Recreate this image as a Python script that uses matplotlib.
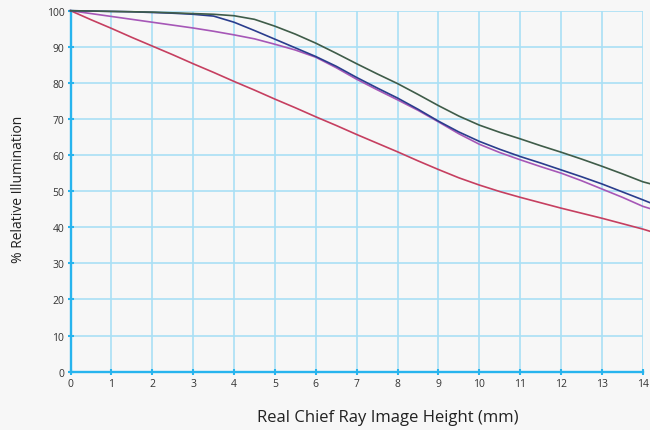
import matplotlib
matplotlib.use('Agg')
import matplotlib.pyplot as plt

# image height (mm)
height = [0, 0.5, 1, 1.5, 2, 2.5, 3, 3.5, 4, 4.5, 5, 5.5, 6, 6.5, 7, 7.5,
          8, 8.5, 9, 9.5, 10, 10.5, 11, 11.5, 12, 12.5, 13, 13.5, 14, 14.2]

# % relative illumination, one list per curve
red = [100, 97.5, 95.1, 92.6, 90.2, 87.8, 85.3, 82.9, 80.4, 78.0, 75.5, 73.1,
       70.6, 68.2, 65.7, 63.3, 60.9, 58.4, 56.0, 53.7, 51.7, 49.9, 48.3, 46.8,
       45.3, 43.9, 42.5, 41.0, 39.5, 38.8]
purple = [100, 99.2, 98.4, 97.6, 96.8, 96.0, 95.2, 94.3, 93.3, 92.2, 90.7,
          89.1, 87.1, 84.2, 81.0, 78.1, 75.3, 72.4, 69.2, 65.9, 63.0, 60.7,
          58.7, 56.8, 55.0, 52.9, 50.6, 48.3, 45.8, 45.1]
blue = [100, 99.9, 99.8, 99.7, 99.5, 99.3, 99.0, 98.5, 96.8, 94.5, 92.1, 89.7,
        87.3, 84.6, 81.5, 78.6, 75.8, 72.7, 69.4, 66.4, 63.8, 61.6, 59.6, 57.8,
        55.9, 54.0, 52.0, 49.8, 47.6, 46.7]
green = [100, 99.9, 99.8, 99.7, 99.6, 99.4, 99.2, 99.0, 98.6, 97.6, 95.7, 93.5,
         91.0, 88.2, 85.3, 82.5, 79.8, 76.8, 73.7, 70.8, 68.3, 66.3, 64.5, 62.6,
         60.8, 58.9, 56.9, 54.8, 52.6, 52.0]

xticks = list(range(0, 15))
yticks = list(range(0, 101, 10))

plt.rcParams['font.family'] = ['Open Sans', 'DejaVu Sans']

bg = '#f7f7f7'
axis_blue = '#27b4ee'
grid_blue = '#a9e0f5'

fig = plt.figure(figsize=(6.5, 4.31), dpi=100, facecolor=bg)
ax = fig.add_axes([0.1085, 0.1353, 0.8805, 0.8376], facecolor=bg)

ax.plot(height, red, color='#c63f60', lw=1.2, clip_on=False, zorder=3)
ax.plot(height, purple, color='#a657b7', lw=1.2, clip_on=False, zorder=3)
ax.plot(height, blue, color='#2a3d8d', lw=1.2, clip_on=False, zorder=4)
ax.plot(height, green, color='#3f5c49', lw=1.2, clip_on=False, zorder=4)

ax.set_xlim(0, 14)
ax.set_ylim(0, 100)
ax.set_xticks(xticks)
ax.set_yticks(yticks)

ax.set_axisbelow(True)
ax.grid(color=grid_blue, lw=1.2)

for s in ['top', 'right']:
    ax.spines[s].set_visible(False)
for s in ['left', 'bottom']:
    ax.spines[s].set_color(axis_blue)
    ax.spines[s].set_linewidth(1.7)
    ax.spines[s].set_zorder(2.5)

ax.tick_params(direction='inout', length=5, width=1.5, color=axis_blue,
               labelsize=7.5, labelcolor='#333333', pad=2)

ax.set_xlabel('Real Chief Ray Image Height (mm)', fontsize=12, color='#222222')
ax.set_ylabel('% Relative Illumination', fontsize=10, color='#222222')
ax.xaxis.set_label_coords(0.5546, -0.103)
ax.yaxis.set_label_coords(-0.078, 0.509)

fig.savefig('out.png', facecolor=bg)
